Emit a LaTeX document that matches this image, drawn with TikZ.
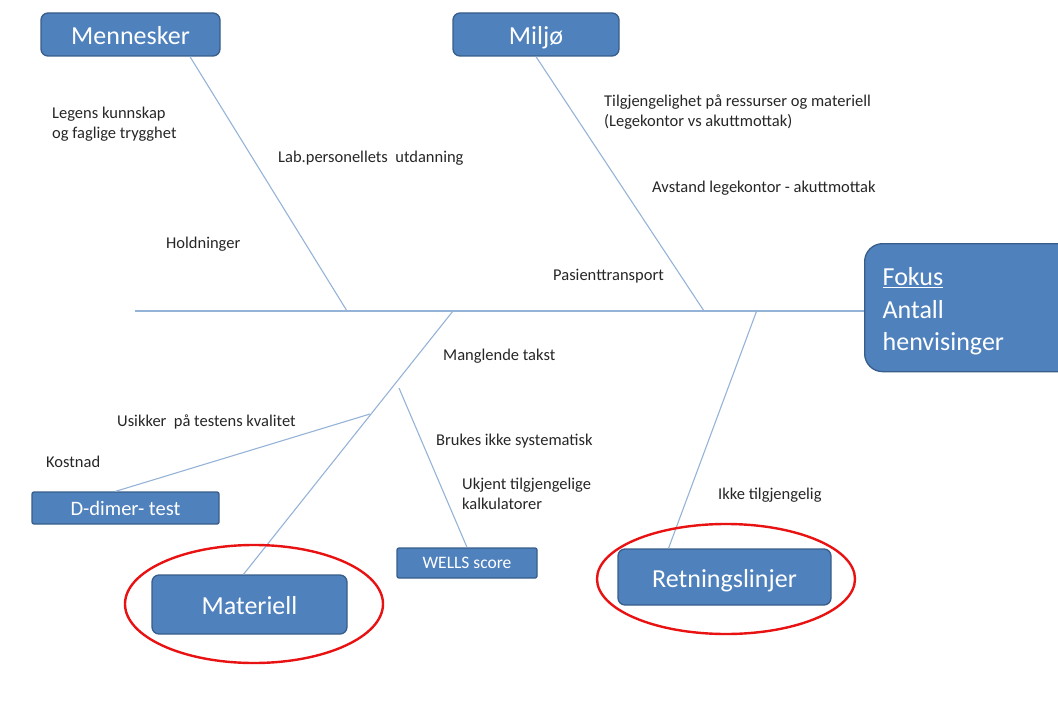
\documentclass[tikz,border=0pt]{standalone}
\usepackage{fontspec}
\setmainfont{Carlito}
\definecolor{boxfill}{RGB}{79,129,189}
\definecolor{boxline}{RGB}{56,93,138}
\definecolor{bonecol}{RGB}{149,179,215}
\definecolor{ringred}{RGB}{232,18,18}
\tikzset{
  catbox/.style={draw=boxline, line width=1.3pt, fill=boxfill, text=white, rounded corners=7pt, inner sep=0pt, font=\fontsize{26}{30}\selectfont, text height=22pt, text depth=2pt},
  subbox/.style={draw=boxline, line width=1.3pt, fill=boxfill, text=white, rounded corners=2pt, inner sep=0pt},
  bone/.style={draw=bonecol, line width=1.1pt},
  ring/.style={draw=ringred, line width=2.4pt},
  lbl/.style={anchor=base west, inner sep=0pt, font=\fontsize{16.5}{20}\selectfont, text=black!85}
}
\begin{document}
\begin{tikzpicture}[x=1pt,y=-1pt]
\useasboundingbox (0,0) rectangle (1058,706);
% boxes
\node[catbox, minimum width=179pt, minimum height=43pt] (mennesker) at (130.5,34.5) {Mennesker};
\node[catbox, minimum width=166pt, minimum height=43pt] (miljo) at (536,34.5) {Miljø};
\node[draw=boxline, line width=1.3pt, fill=boxfill, text=white, rounded corners=18pt, anchor=north west, minimum width=220pt, minimum height=128pt, align=left, text width=184pt, inner xsep=18pt, inner ysep=0pt, font=\fontsize{26}{32.5}\selectfont] (fokus) at (864,243) {\rule{0pt}{26pt}\underline{Fokus}\\Antall\\henvisinger};
\node[subbox, minimum width=187pt, minimum height=32pt, font=\fontsize{20.5}{24}\selectfont] (dimer) at (125.5,508) {D-dimer- test};
\node[catbox, minimum width=195pt, minimum height=59pt] (materiell) at (249.5,604.5) {Materiell};
\node[subbox, minimum width=140pt, minimum height=30pt, font=\fontsize{17.5}{21}\selectfont] (wells) at (467,563) {WELLS score};
\node[catbox, minimum width=213pt, minimum height=56pt] (retning) at (724.5,577) {Retningslinjer};
% junctions
\coordinate (tail) at (135,311);
\coordinate (j1) at (347,311);
\coordinate (j2) at (704,311);
\coordinate (j3) at (453,311);
\coordinate (j4) at (370,414);
\coordinate (j5) at (399,388);
\coordinate (j6) at (757,310);
% bones
\draw[bone] (tail) -- (tail -| fokus.west);
\draw[bone] ([xshift=59.5pt]mennesker.south) -- (j1);
\draw[bone] (miljo.south) -- (j2);
\draw[bone] (j3) -- ([xshift=-6pt]materiell.north);
\draw[bone] (j4) -- ([xshift=-10pt]dimer.north);
\draw[bone] (j5) -- (wells.north);
\draw[bone] (j6) -- ([xshift=-56pt]retning.north);
% rings
\draw[ring] (254,604) ellipse [x radius=129pt, y radius=59pt];
\draw[ring] (726,579) ellipse [x radius=129pt, y radius=55pt];
% labels
\node[lbl] (t1) at (52,119) {Legens kunnskap};
\node[lbl] (t2) at (52,139) {og faglige trygghet};
\node[lbl] (t3) at (278,163) {Lab.personellets\ \ utdanning};
\node[lbl] (t4) at (166,248) {Holdninger};
\node[lbl] (t5) at (604,107) {Tilgjengelighet på ressurser og materiell};
\node[lbl] (t6) at (604,127) {(Legekontor vs akuttmottak)};
\node[lbl] (t7) at (652,193) {Avstand legekontor - akuttmottak};
\node[lbl] (t8) at (553,280) {Pasienttransport};
\node[lbl] (t9) at (443,360) {Manglende takst};
\node[lbl] (t10) at (117,426) {Usikker\ \ på testens kvalitet};
\node[lbl] (t11) at (46,467) {Kostnad};
\node[lbl] (t12) at (436,445) {Brukes ikke systematisk};
\node[lbl] (t13) at (462,489) {Ukjent tilgjengelige};
\node[lbl] (t14) at (462,509) {kalkulatorer};
\node[lbl] (t15) at (718,499) {Ikke tilgjengelig};
\end{tikzpicture}
\end{document}
